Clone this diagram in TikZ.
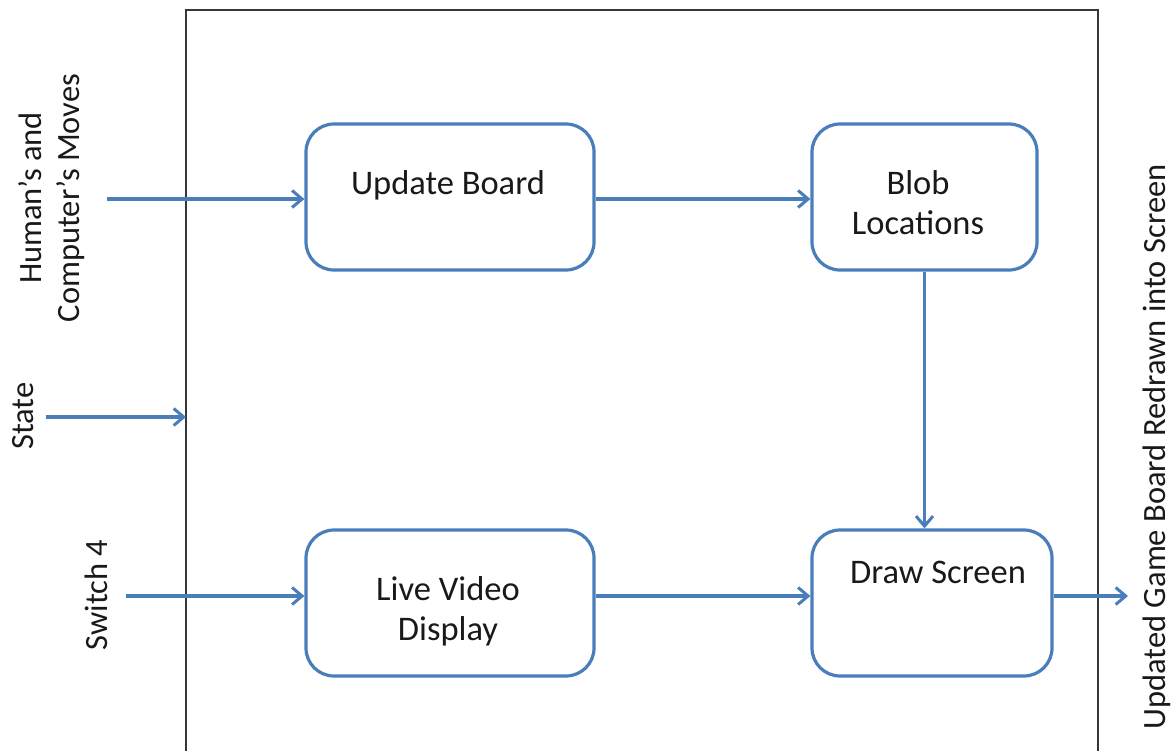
\documentclass[tikz,border=0pt]{standalone}
\usepackage{fontspec}
\setmainfont{Carlito}
\usetikzlibrary{arrows.meta}
\definecolor{flowblue}{RGB}{74,126,187}
\definecolor{framegray}{RGB}{55,55,55}
\begin{document}
\begin{tikzpicture}[x=1pt,y=-1pt,
  box/.style={draw=flowblue, line width=3.2pt, rounded corners=28pt, inner sep=0pt},
  flow/.style={draw=flowblue, line width=3.2pt,
    -{Straight Barb[length=10pt,width=17pt,line width=3pt]}},
  txt/.style={font=\fontsize{34.5}{40}\selectfont, align=center, inner sep=0pt, text=black!90},
  side/.style={txt, font=\fontsize{32.5}{38}\selectfont, rotate=90},
]
\useasboundingbox (0,0) rectangle (1172,751);
\clip (0,0) rectangle (1172,751);

% system boundary (open at the bottom)
\coordinate (frameTL) at (186,10);
\coordinate (frameTR) at (1098,10);
\draw[framegray, line width=2.2pt] (186,760) -- (frameTL) -- (frameTR) -- (1098,760);

% process boxes
\node[box, minimum width=288pt, minimum height=146pt] (upd)  at (450,197) {};
\node[box, minimum width=225pt, minimum height=146pt] (blob) at (924.5,197) {};
\node[box, minimum width=288pt, minimum height=146pt] (live) at (450,603) {};
\node[box, minimum width=240pt, minimum height=146pt] (draw) at (932,603) {};

% box captions
\node[txt] (updT)  at (448,185) {Update Board};
\node[txt] (blobT) at (918,203) {Blob\\Locations};
\node[txt] (liveT) at (448,611) {Live Video\\Display};
\node[txt] (drawT) at (938,572) {Draw Screen};

% inputs and outputs
\coordinate (hin) at (107,199);
\coordinate (sin) at (46,417);
\coordinate (win) at (126,596);
\coordinate (out) at (1128,596);

\draw[flow] (hin) -- (hin -| upd.west);
\draw[flow] (hin -| upd.east) -- (hin -| blob.west);
\draw[flow] (blob.south) -- (blob.south |- draw.north);
\draw[flow] (sin) -- (sin -| frameTL);
\draw[flow] (win) -- (win -| live.west);
\draw[flow] (win -| live.east) -- (win -| draw.west);
\draw[flow] (win -| draw.east) -- (out);

% side labels
\node[side] (lmoves)  at (52,198)  {Human’s and\\Computer’s Moves};
\node[side] (lstate)  at (23,416)  {State};
\node[side] (lswitch) at (96,595)  {Switch 4};
\node[side] (lout)    at (1157,447) {Updated Game Board Redrawn into Screen};
\end{tikzpicture}
\end{document}
